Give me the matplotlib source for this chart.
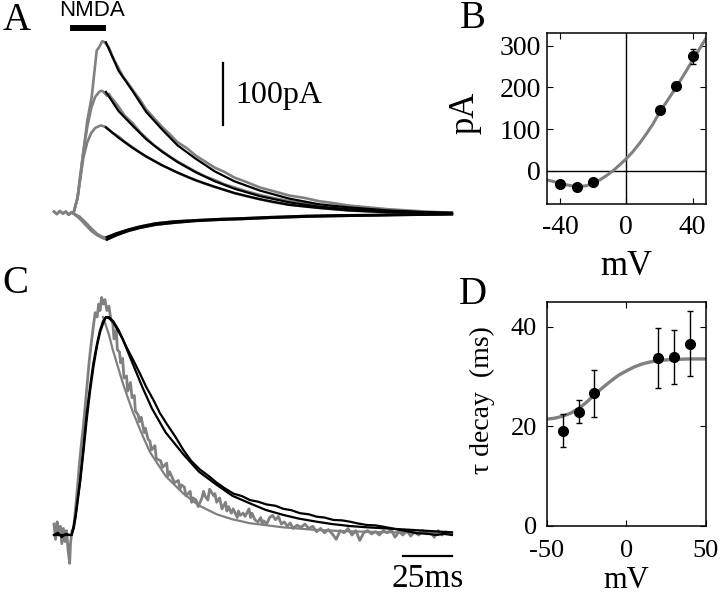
import matplotlib.pyplot as plt
import numpy as np

plt.rcParams['font.family'] = ['Liberation Serif', 'DejaVu Serif']
plt.rcParams['axes.unicode_minus'] = False

GRAY = '#808080'

# ---- panel A: currents (ms, pA) ----
a_top_t = [0, 1.5, 3, 4.5, 6, 7.5, 9, 9.9, 12, 15, 17, 19.2, 21.8, 23, 24.6, 26, 28, 30, 32, 35, 38, 40, 44, 47, 51,
           55, 59, 63, 68, 72, 77, 82, 87, 92, 98, 105, 112, 120, 128, 135, 142, 150, 160, 170, 180, 190, 197, 203]
a_top_pa = [3, -1, 4, 0, 3, -2, 2, 0, 25, 100, 150, 187, 263, 268, 278, 276, 268, 252, 240, 222, 209, 200, 183, 168,
            154, 140, 128, 115, 105, 94, 84, 74, 67, 58, 51, 42, 36, 29, 25, 20, 17, 13, 10, 7, 5, 3, 2, 1]
a_mid_t = [9.9, 12, 15, 17, 19, 21, 23, 24, 25, 27, 28, 29, 31, 33, 36, 40, 44, 47, 51, 55, 59, 63, 68, 72, 77, 82,
           87, 92, 98, 105, 112, 120, 135, 150, 170, 190, 203]
a_mid_pa = [0, 25, 100, 140, 170, 188, 196, 198, 197, 190, 193, 188, 180, 172, 158, 146, 131, 122, 110, 101, 92, 84, 75,
            68, 60, 54, 47, 42, 36, 30, 25, 20, 13, 8, 4, 2, 1]
a_low_t = [9.9, 12, 15, 17, 19, 21, 23, 24, 26, 28, 30, 33, 36, 40, 44, 47, 51, 55, 59, 63, 68, 72, 77, 82, 87, 92,
           98, 105, 112, 120, 135, 150, 170, 190, 203]
a_low_pa = [0, 25, 90, 115, 130, 138, 141, 142, 140, 135, 130, 124, 116, 107, 98, 92, 85, 78, 72, 66, 59, 54, 48, 43,
            38, 33, 28, 23, 18, 14, 9, 5, 2, 1, 0]
a_neg1_t = [0, 1.5, 3, 4.5, 6, 7.5, 9, 9.9, 13, 16, 19, 22, 25, 27, 32, 38, 44, 52, 61, 72, 85, 95, 110, 129, 145,
            163, 185, 203]
a_neg1_pa = [3, -1, 4, 0, 3, -2, 2, 0, -8, -18, -28, -35, -40, -42, -34, -28, -23, -18, -15, -12, -10, -9, -7, -5, -4,
             -3, -2, -1]
a_neg2_t = [9.9, 13, 16, 19, 22, 25, 27, 32, 38, 44, 52, 61, 72, 85, 95, 110, 129, 145, 163, 185, 203]
a_neg2_pa = [0, -5, -14, -24, -33, -38, -39, -32, -26, -21, -16, -13, -11, -9, -8, -6, -4, -3, -2.5, -1.5, -1]

fit_t = [26.5, 33, 40, 47, 55, 63, 72, 82, 92, 105, 120, 135, 150, 170, 190, 203]
fit_top_pa = [276, 230, 198, 164, 136, 110, 89, 68, 52, 37, 24, 15, 10, 5, 2, 1]
fit_mid_pa = [196, 165, 142, 120, 100, 83, 67, 52, 40, 28, 18, 11, 7, 4, 2, 1]
fit_low_pa = [139, 122, 106, 92, 78, 66, 54, 43, 33, 23, 14, 9, 5, 2, 1, 0]
neg_fit_t = [27, 32, 38, 44, 52, 61, 72, 85, 95, 110, 129, 145, 163, 185, 203]
neg_fit1_pa = [-38, -32, -26, -21, -16, -13, -11, -9, -8, -6, -4, -3, -2.5, -1.5, -1]
neg_fit2_pa = [-42, -35, -28, -23, -18, -15, -12, -10, -9, -7, -5, -4, -3, -2, -1]

# ---- panel B: I-V ----
b_mv = [-40, -30, -20, 20, 30, 40]
b_pa = [-33, -40, -28, 146, 204, 275]
b_err = [5, 5, 5, 6, 8, 18]
b_fit_mv = [-48, -44, -40, -36, -32, -28, -24, -20, -16, -12, -8, -4, 0, 4, 8, 12, 16, 20, 24, 28, 32, 36, 40, 44, 48]
b_fit_pa = [-22, -26, -30, -34, -37, -38, -36, -30, -22, -12, 0, 14, 29, 46, 66, 88, 112, 140, 164, 188, 213, 239,
            266, 292, 318]

# ---- panel C: normalised currents, (ms, fraction of peak) pairs ----
c_gray = [(0, 0.05), (0.8, -0.02), (1.6, 0.06), (2.4, 0.0), (3.2, 0.04), (4, -0.04), (4.8, 0.03), (5.6, -0.03),
          (6.4, 0.02), (7.2, -0.07), (8.0, -0.13), (8.4, -0.04), (9.2, 0.02), (10, 0.03), (11, 0.12), (12, 0.22),
          (13, 0.33), (14, 0.42), (15, 0.5), (16, 0.6), (17, 0.7), (18, 0.8), (19, 0.88), (20, 0.95), (21, 1.02),
          (22, 1.0), (22.8, 1.06), (23.5, 1.03), (24.3, 1.09), (25.2, 1.06), (26, 1.08), (27, 1.03), (28, 1.05),
          (29, 0.99), (30, 0.97), (30.6, 0.9), (31.8, 0.94), (32.3, 0.85), (33.4, 0.84), (34.0, 0.79), (35, 0.81),
          (35.7, 0.72), (37, 0.73), (37.6, 0.66), (39, 0.7), (39.8, 0.63), (41, 0.64), (41.5, 0.57), (43, 0.55),
          (43.6, 0.52), (44.5, 0.54), (46, 0.47), (46.6, 0.49), (48, 0.44), (49, 0.43), (49.7, 0.39), (51.5, 0.41),
          (52.2, 0.35), (54.5, 0.34), (55.3, 0.31), (57.5, 0.33), (58.1, 0.27), (59, 0.29), (60.5, 0.26),
          (61.4, 0.24), (63.5, 0.25), (64.2, 0.21), (65, 0.23), (66.5, 0.22), (67.3, 0.18), (69.5, 0.2),
          (70.2, 0.15), (71, 0.17), (72.5, 0.16), (73.6, 0.13), (75.5, 0.17), (76.3, 0.2), (77, 0.18), (78.5, 0.16),
          (79.4, 0.21), (81.5, 0.18), (82.1, 0.19), (83, 0.15), (84.5, 0.17), (85.7, 0.12), (87.5, 0.15),
          (88.2, 0.11), (89, 0.13), (90.5, 0.1), (91.4, 0.12), (93.5, 0.08), (94.1, 0.11), (95, 0.09), (96.5, 0.1),
          (97.5, 0.085), (99.5, 0.12), (100.3, 0.08), (101, 0.1), (102.5, 0.07), (104, 0.06), (105.5, 0.08),
          (106.2, 0.05), (107, 0.065), (108.5, 0.05), (110, 0.08), (111.5, 0.09), (113, 0.07), (114.5, 0.085),
          (116, 0.05), (117.5, 0.06), (119, 0.04), (120.5, 0.055), (122, 0.03), (124, 0.045), (126, 0.035),
          (128, 0.05), (130, 0.03), (132, 0.04), (134, 0.015), (136, 0.03), (138, 0.01), (140, 0.025),
          (142, 0.005), (144, -0.02), (146, 0.02), (148, 0.01), (150, 0.03), (152, 0.0), (154, 0.02),
          (156, -0.025), (158, 0.01), (160, 0.02), (162, 0.005), (164, 0.015), (166, 0.0), (168, 0.02),
          (170, 0.01), (172, 0.025), (174, -0.01), (176, 0.015), (178, 0.0), (180, 0.02), (182, -0.005),
          (184, 0.015), (186, 0.0), (188, 0.02), (190, 0.005), (192, 0.015), (194, -0.01), (196, 0.02), (198, 0.0),
          (200, 0.015), (202, 0.005), (203, 0.01)]
c_black = [(0, 0), (2, 0.01), (4, -0.01), (6, 0.005), (8, 0), (9, 0), (10, 0.04), (11, 0.09), (12, 0.16),
           (13.3, 0.25), (15, 0.4), (16.7, 0.56), (18.4, 0.68), (20.1, 0.79), (22, 0.88), (23.5, 0.94), (25, 0.98),
           (26.5, 1.0), (28, 1.0), (30.3, 0.98), (33, 0.94), (35, 0.9), (37.1, 0.86), (40, 0.81), (43.9, 0.74),
           (47, 0.68), (50.7, 0.62), (54, 0.56), (57.5, 0.51), (62, 0.45), (66, 0.39), (70, 0.34), (74.5, 0.3),
           (79, 0.27), (83, 0.24), (87, 0.215), (91.5, 0.19), (96, 0.178), (100, 0.16), (104, 0.153), (108.5, 0.14),
           (113, 0.134), (117, 0.12), (121, 0.114), (125.5, 0.1), (130, 0.095), (134, 0.084), (138, 0.08),
           (142.5, 0.069), (147, 0.067), (151, 0.061), (155, 0.053), (159.5, 0.046), (164, 0.044), (168, 0.038),
           (172, 0.031), (176.5, 0.023), (181, 0.016), (185, 0.008), (190, 0.006), (195, 0.0), (199, 0.005),
           (203, 0.0)]
c_fit = [(0, 0), (9, 0), (10, 0.03), (11, 0.08), (12, 0.15), (13.3, 0.24), (15, 0.38), (16.7, 0.53), (18.4, 0.66),
         (20.1, 0.77), (22, 0.87), (23.5, 0.93), (25, 0.97), (26.5, 1.0), (28, 0.995), (30, 0.98), (35, 0.9),
         (40, 0.79), (45, 0.68), (50, 0.58), (57, 0.47), (66, 0.37), (74, 0.29), (83, 0.23), (91, 0.18),
         (100, 0.145), (108, 0.115), (117, 0.092), (125, 0.075), (134, 0.061), (142, 0.05), (151, 0.041),
         (160, 0.035), (168, 0.031), (185, 0.022), (203, 0.012)]
c_gfit = [(25, 1.0), (28, 0.92), (30, 0.85), (35, 0.7), (40, 0.57), (45, 0.46), (49, 0.38), (57, 0.27), (66, 0.19),
          (74, 0.135), (83, 0.095), (91, 0.072), (100, 0.054), (117, 0.035), (134, 0.023), (150, 0.017),
          (168, 0.013), (185, 0.011), (203, 0.01)]

# ---- panel D: decay time constants ----
d_mv = [-40, -30, -20, 20, 30, 40]
d_tau = [19.1, 22.9, 26.6, 33.7, 33.9, 36.6]
d_err = [3.3, 2.3, 4.7, 6.0, 5.4, 6.5]
d_fit_mv = [-50, -45, -40, -35, -30, -25, -20, -15, -10, -5, 0, 5, 10, 15, 20, 25, 30, 40, 50]
d_fit_tau = [21.4, 21.6, 22.0, 22.6, 23.5, 24.8, 26.3, 27.7, 29.0, 30.2, 31.1, 31.9, 32.5, 32.9, 33.2, 33.3, 33.4,
             33.5, 33.5]

W, H = 720, 596
fig = plt.figure(figsize=(7.2, 5.96), dpi=100)


def px_axes(x0, y0, x1, y1):
    return fig.add_axes([x0 / W, 1 - y1 / H, (x1 - x0) / W, (y1 - y0) / H])


def px_text(x, y, s, **kw):
    fig.text(x / W, 1 - y / H, s, **kw)


# panel A
axA = px_axes(40, 0, 460, 250)
axA.set_xlim(-7.14, 207.14)
axA.set_ylim(-58.9, 344.4)
axA.axis('off')
for t, y in [(a_neg1_t, a_neg1_pa), (a_neg2_t, a_neg2_pa), (a_low_t, a_low_pa),
             (a_mid_t, a_mid_pa), (a_top_t, a_top_pa)]:
    axA.plot(t, y, color=GRAY, lw=1.9, solid_joinstyle='round')
for y in [fit_top_pa, fit_mid_pa, fit_low_pa]:
    axA.plot(fit_t, y, color='k', lw=1.6)
axA.plot(neg_fit_t, neg_fit1_pa, color='k', lw=1.8)
axA.plot(neg_fit_t, neg_fit2_pa, color='k', lw=1.8)
axA.plot([8.2, 26.5], [300, 300], color='k', lw=4.3, solid_capstyle='butt')
axA.plot([86.2, 86.2], [142, 242], color='k', lw=1.6)
axA.text(92.5, 191, '100pA', fontsize=23, va='center', ha='left')
px_text(92, 11, 'NMDA', family='Liberation Sans', fontsize=16, ha='center', va='center')

# panel C
axC = px_axes(40, 270, 460, 596)
axC.set_xlim(-7.14, 207.14)
axC.set_ylim(-0.28, 1.216)
axC.axis('off')
for pts, col, lw in [(c_gray, GRAY, 2.0), (c_gfit, GRAY, 1.6), (c_fit, 'k', 1.6), (c_black, 'k', 1.6)]:
    t, y = zip(*pts)
    axC.plot(t, y, color=col, lw=lw)
axC.plot([178.2, 202.9], [-0.096, -0.096], color='k', lw=1.6)
axC.text(190.5, -0.2, '25ms', fontsize=24, ha='center', va='center')


def style(ax, size, xpad, ypad):
    ax.tick_params(direction='in', length=4, top=True, right=True, labelsize=size)
    ax.tick_params(axis='x', pad=xpad)
    ax.tick_params(axis='y', pad=ypad)
    for s in ax.spines.values():
        s.set_linewidth(1.1)


# panel B
axB = px_axes(546.7, 33.3, 706, 204)
axB.axhline(0, color='k', lw=1)
axB.axvline(0, color='k', lw=1)
axB.plot(b_fit_mv, b_fit_pa, color=GRAY, lw=2.2)
axB.errorbar(b_mv, b_pa, yerr=b_err, fmt='o', color='k', ms=7, capsize=2, elinewidth=1)
axB.set_xlim(-48, 48)
axB.set_ylim(-80, 330)
axB.set_xticks([-40, 0, 40])
axB.set_yticks([0, 100, 200, 300])
style(axB, 20, 8, 4)

# panel D
axD = px_axes(546.7, 301.7, 706, 525.7)
axD.plot(d_fit_mv, d_fit_tau, color=GRAY, lw=2.4)
axD.errorbar(d_mv, d_tau, yerr=d_err, fmt='o', color='k', ms=7, capsize=2, elinewidth=1)
axD.set_xlim(-50, 50)
axD.set_ylim(0, 45)
axD.set_xticks([-50, 0, 50])
axD.set_yticks([0, 20, 40])
style(axD, 19, 10, 7)

# labels
px_text(17, 21, 'A', fontsize=28, ha='center', va='center')
px_text(473, 18, 'B', fontsize=28, ha='center', va='center')
px_text(15, 283, 'C', fontsize=28, ha='center', va='center')
px_text(473, 294, 'D', fontsize=28, ha='center', va='center')
px_text(465, 113, 'pA', fontsize=25, rotation=90, ha='center', va='center')
px_text(626, 266, 'mV', fontsize=25, ha='center', va='center')
px_text(626, 581, 'mV', fontsize=22, ha='center', va='center')
px_text(482, 400, 'τ decay  (ms)', fontsize=20, rotation=90, ha='center', va='center')

fig.savefig('out.png', dpi=100)
